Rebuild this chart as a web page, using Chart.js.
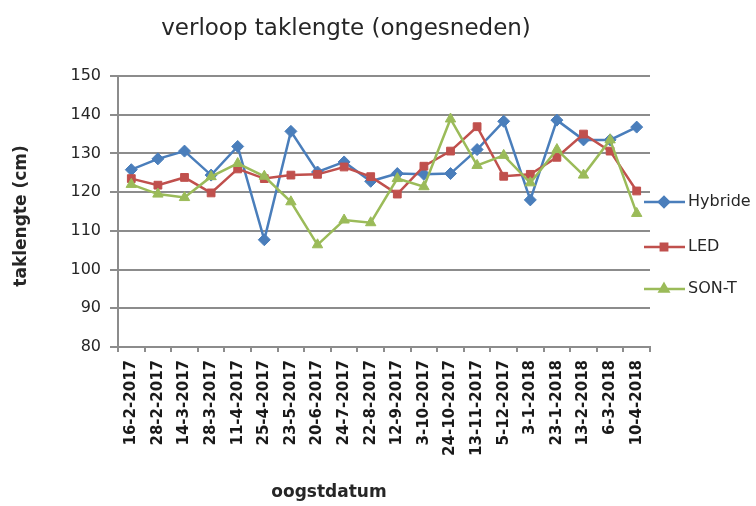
<!DOCTYPE html>
<html><head><meta charset="utf-8">
<script src="https://cdn.jsdelivr.net/npm/chart.js@4/dist/chart.umd.min.js"></script>
<style>html,body{margin:0;padding:0;background:#fff}#wrap{width:756px;height:506px;position:relative}</style>
</head><body><div id="wrap"><canvas id="c" width="756" height="506"></canvas></div>
<script>
const categories = ['16-2-2017','28-2-2017','14-3-2017','28-3-2017','11-4-2017','25-4-2017','23-5-2017','20-6-2017','24-7-2017','22-8-2017','12-9-2017','3-10-2017','24-10-2017','13-11-2017','5-12-2017','3-1-2018','23-1-2018','13-2-2018','6-3-2018','10-4-2018'];
const hybride = [125.8,128.6,130.6,124.4,131.8,107.7,135.7,125.2,127.8,122.8,124.8,124.6,124.8,131.0,138.3,118.0,138.6,133.5,133.5,136.8];
const led     = [123.5,121.8,123.8,119.8,126.0,123.5,124.4,124.6,126.5,124.0,119.5,126.7,130.6,136.9,124.1,124.6,129.0,135.0,130.6,120.3];
const sonT    = [122.0,119.5,118.6,124.0,127.4,124.1,117.5,106.4,112.8,112.1,123.5,121.4,138.9,126.9,129.5,122.4,131.0,124.4,133.5,114.5];
const yTicks = [80,90,100,110,120,130,140,150];
const chartTitle = 'verloop taklengte (ongesneden)';
const xTitle = 'oogstdatum';
const yTitle = 'taklengte (cm)';
const seriesNames = ['Hybride','LED','SON-T'];

const FONT = "'DejaVu Sans', sans-serif";
const colors = ['#4a7ebb','#c0504d','#9bbb59'];
const markers = ['rectRot','rect','triangle'];
const radii = [6,5.5,6];

const textPlugin = {
  id: 'texts',
  afterDraw(chart) {
    const ctx = chart.ctx;
    ctx.save();
    ctx.fillStyle = '#262626';
    ctx.textAlign = 'center';
    ctx.textBaseline = 'middle';
    ctx.font = '23px ' + FONT;
    ctx.fillText(chartTitle, 346, 29);
    ctx.font = 'bold 17px ' + FONT;
    ctx.fillText(xTitle, 329, 493);
    ctx.save();
    ctx.translate(22, 216);
    ctx.rotate(-Math.PI / 2);
    ctx.font = 'bold 17px ' + FONT;
    ctx.fillText(yTitle, 0, 0);
    ctx.restore();
    // legend
    const ys = [202, 247, 289];
    chart.data.datasets.forEach((ds, i) => {
      const y = ys[i];
      ctx.strokeStyle = ds.borderColor;
      ctx.lineWidth = 2.5;
      ctx.beginPath();
      ctx.moveTo(644, y);
      ctx.lineTo(685, y);
      ctx.stroke();
      Chart.helpers.drawPoint(ctx, {pointStyle: ds.pointStyle, radius: ds.pointRadius - 1, rotation: 0, borderWidth: 1}, 664, y);
      ctx.fillStyle = ds.borderColor;
      ctx.fill();
      ctx.fillStyle = '#262626';
      ctx.textAlign = 'left';
      ctx.font = '16px ' + FONT;
      ctx.fillText(ds.label, 688, y);
    });
    ctx.restore();
  }
};

const seriesData = [hybride, led, sonT];
new Chart(document.getElementById('c'), {
  type: 'line',
  data: {
    labels: categories,
    datasets: seriesData.map((d, i) => ({
      label: seriesNames[i],
      data: d,
      borderColor: colors[i],
      backgroundColor: colors[i],
      pointBackgroundColor: colors[i],
      pointBorderColor: colors[i],
      pointStyle: markers[i],
      pointRadius: radii[i],
      pointBorderWidth: 1,
      borderWidth: 2.5,
      tension: 0,
      order: 2 - i
    }))
  },
  options: {
    responsive: false,
    animation: false,
    devicePixelRatio: 1,
    layout: { padding: { top: 76, right: 106, bottom: 0, left: 0 } },
    plugins: { legend: { display: false }, title: { display: false }, tooltip: { enabled: false } },
    scales: {
      x: {
        type: 'category',
        offset: true,
        afterFit(s) { s.height = 159; },
        grid: { offset: true, drawOnChartArea: false, drawTicks: true, tickLength: 5, color: '#8c8c8c', lineWidth: 2 },
        border: { display: true, color: '#8c8c8c', width: 2 },
        ticks: { minRotation: 90, maxRotation: 90, autoSkip: false, padding: 8, color: '#1a1a1a', font: { family: FONT, size: 15, weight: 'bold' } }
      },
      y: {
        min: 80, max: 150,
        afterFit(s) { s.width = 118; },
        afterBuildTicks(s) { s.ticks = yTicks.map(v => ({ value: v })); },
        grid: { color: '#8c8c8c', lineWidth: 2, drawTicks: true, tickLength: 8 },
        border: { display: true, color: '#8c8c8c', width: 2 },
        ticks: { padding: 9, color: '#262626', font: { family: FONT, size: 16 } }
      }
    }
  },
  plugins: [textPlugin]
});
</script>
</body></html>
